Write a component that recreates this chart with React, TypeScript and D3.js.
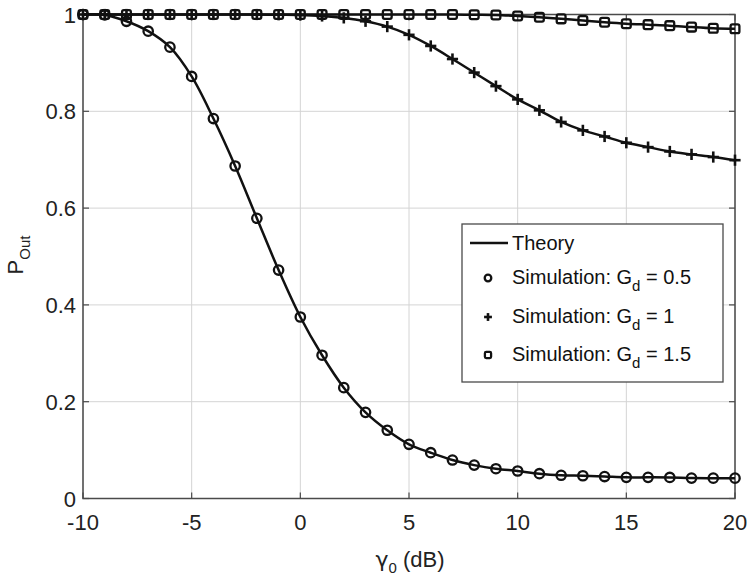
import React from "react";
import * as d3 from "d3";

const xValues = d3.range(-10, 21, 1);
const gd05 = [1.0, 0.999, 0.986, 0.9655, 0.9325, 0.872, 0.785, 0.687, 0.579, 0.472, 0.375, 0.296, 0.229, 0.178, 0.141, 0.112, 0.0946, 0.0795, 0.069, 0.0615, 0.0568, 0.0512, 0.048, 0.047, 0.0454, 0.0437, 0.0437, 0.0435, 0.0422, 0.042, 0.042];
const gd1 = [1.0, 1.0, 1.0, 1.0, 1.0, 1.0, 1.0, 1.0, 1.0, 0.9995, 0.999, 0.997, 0.993, 0.986, 0.975, 0.958, 0.935, 0.908, 0.88, 0.852, 0.8246, 0.802, 0.778, 0.7606, 0.748, 0.735, 0.726, 0.717, 0.711, 0.7055, 0.699];
const gd15 = [1.0, 1.0, 1.0, 1.0, 1.0, 1.0, 1.0, 1.0, 1.0, 1.0, 1.0, 1.0, 1.0, 1.0, 1.0, 1.0, 1.0, 1.0, 0.9995, 0.999, 0.997, 0.9944, 0.991, 0.9876, 0.984, 0.981, 0.979, 0.977, 0.974, 0.9715, 0.9705];
const xTicks = [-10, -5, 0, 5, 10, 15, 20];
const yTicks = [0, 0.2, 0.4, 0.6, 0.8, 1];
const legendLabels = ["Theory", "0.5", "1", "1.5"];

const W = 749, H = 578;
const L = 83, R = 735, T = 14.5, B = 498.5;
const INK = "#111";
const AX = "#4a4a4a";
const FONT = "Liberation Sans, Arial, sans-serif";

function Marker({ kind, x, y, s = 1 }: { kind: string; x: number; y: number; s?: number }) {
  if (kind === "circle") return <circle cx={x} cy={y} r={4.7 * s} fill="none" stroke={INK} strokeWidth={2.3} />;
  if (kind === "plus") {
    const a = 5.6 * s;
    return (
      <g stroke={INK} strokeWidth={2.6}>
        <line x1={x - a} x2={x + a} y1={y} y2={y} />
        <line x1={x} x2={x} y1={y - a} y2={y + a} />
      </g>
    );
  }
  const h = 4.4 * s;
  return <rect x={x - h} y={y - h} width={2 * h} height={2 * h} rx={1.8 * s} fill="none" stroke={INK} strokeWidth={2.3} />;
}

export default function App() {
  const x = d3.scaleLinear().domain([-10, 20]).range([L, R]);
  const y = d3.scaleLinear().domain([0, 1]).range([B, T]);
  const line = d3
    .line<number>()
    .x((_, i) => x(xValues[i]))
    .y((d) => y(d))
    .curve(d3.curveCatmullRom.alpha(0.5));

  const series = [
    { data: gd05, kind: "circle" },
    { data: gd1, kind: "plus" },
    { data: gd15, kind: "square" },
  ];

  const legX = 462, legY = 224, legW = 261, legH = 158;
  const rowY = [243, 277, 316, 354];

  return (
    <svg width={W} height={H} style={{ position: "absolute", left: 0, top: 0, background: "#fff" }} fontFamily={FONT}>
      <rect x={0} y={0} width={W} height={H} fill="#fff" />
      <g stroke="#d4d4d4" strokeWidth={1}>
        {xTicks.map((t) => (
          <line key={"gx" + t} x1={x(t)} x2={x(t)} y1={T} y2={B} />
        ))}
        {yTicks.map((t) => (
          <line key={"gy" + t} x1={L} x2={R} y1={y(t)} y2={y(t)} />
        ))}
      </g>
      <rect x={L} y={T} width={R - L} height={B - T} fill="none" stroke={AX} strokeWidth={1.5} />
      <g stroke={AX} strokeWidth={1.2}>
        {xTicks.map((t) => (
          <g key={"tx" + t}>
            <line x1={x(t)} x2={x(t)} y1={B} y2={B - 6} />
            <line x1={x(t)} x2={x(t)} y1={T} y2={T + 6} />
          </g>
        ))}
        {yTicks.map((t) => (
          <g key={"ty" + t}>
            <line x1={L} x2={L + 6} y1={y(t)} y2={y(t)} />
            <line x1={R} x2={R - 6} y1={y(t)} y2={y(t)} />
          </g>
        ))}
      </g>
      <g fontSize={22} fill="#222">
        {xTicks.map((t) => (
          <text key={"lx" + t} x={x(t)} y={530} textAnchor="middle">
            {t}
          </text>
        ))}
        {yTicks.map((t) => (
          <text key={"ly" + t} x={76} y={y(t) + 8} textAnchor="end">
            {t}
          </text>
        ))}
      </g>
      <text x={410} y={567} textAnchor="middle" fontSize={22} fill="#222">
        <tspan fontFamily="DejaVu Sans">γ</tspan>
        <tspan dy={6} fontSize={15}>0</tspan>
        <tspan dy={-6}> (dB)</tspan>
      </text>
      <text transform="translate(23,255) rotate(-90)" textAnchor="middle" fontSize={22} fill="#222">
        P<tspan dy={7} fontSize={15}>Out</tspan>
      </text>
      {series.map((s, k) => (
        <path key={"c" + k} d={line(s.data) || ""} fill="none" stroke={INK} strokeWidth={2.5} />
      ))}
      {series.map((s, k) => (
        <g key={"m" + k}>
          {s.data.map((v, i) => (
            <Marker key={i} kind={s.kind} x={x(xValues[i])} y={y(v)} />
          ))}
        </g>
      ))}
      <rect x={legX} y={legY} width={legW} height={legH} fill="#fff" stroke={AX} strokeWidth={1.3} />
      <line x1={470} x2={508} y1={rowY[0]} y2={rowY[0]} stroke={INK} strokeWidth={2.6} />
      <g fontSize={20} fill="#111">
        <text x={512} y={rowY[0] + 7}>{legendLabels[0]}</text>
        {series.map((s, k) => (
          <g key={"l" + k}>
            <Marker kind={s.kind} x={488} y={rowY[k + 1] + 1} s={0.7} />
            <text x={512} y={rowY[k + 1] + 7}>
              Simulation: G<tspan dy={7} fontSize={15}>d</tspan>
              <tspan dy={-7}>{" = " + legendLabels[k + 1]}</tspan>
            </text>
          </g>
        ))}
      </g>
    </svg>
  );
}
